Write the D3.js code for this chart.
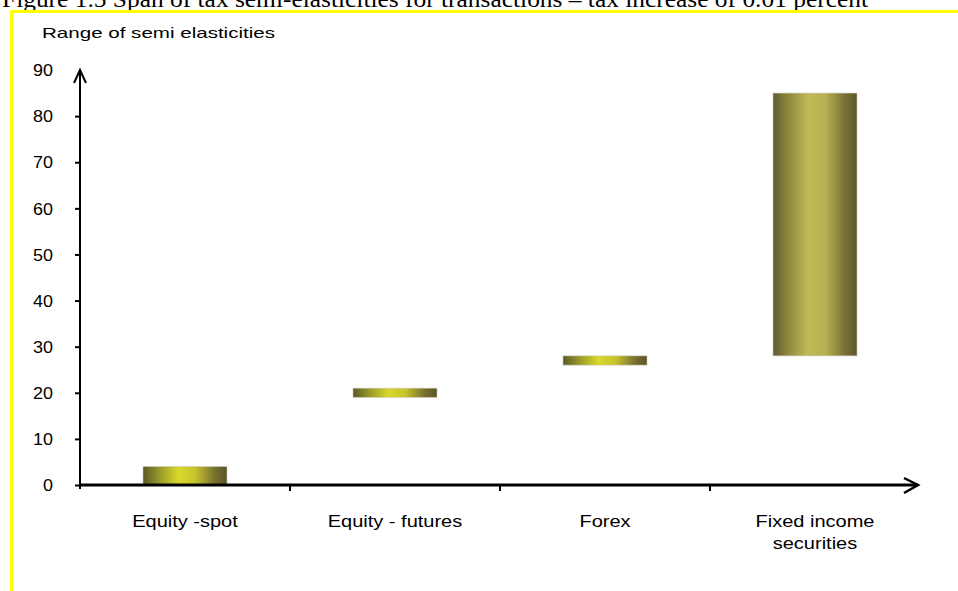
<!DOCTYPE html>
<html><head><meta charset="utf-8">
<script src="https://cdn.jsdelivr.net/npm/d3@7"></script>
<style>html,body{margin:0;padding:0;background:#fff;overflow:hidden}</style>
</head><body>
<svg id="c" width="958" height="591"></svg>
<script>
const categories = ["Equity -spot", "Equity - futures", "Forex", "Fixed income securities"];
const lowValues = [0, 19, 26, 28];
const highValues = [4, 21, 28, 85];
const yTicks = [0, 10, 20, 30, 40, 50, 60, 70, 80, 90];
const titleText = "Figure 1.5 Span of tax semi-elasticities for transactions \u2013 tax increase of 0.01 percent";
const yTitle = "Range of semi elasticities";

const svg = d3.select("#c");
const defs = svg.append("defs");
function grad(id, stops) {
  const g = defs.append("linearGradient").attr("id", id).attr("x1", "0%").attr("x2", "100%").attr("y1", "0%").attr("y2", "0%");
  stops.forEach(s => g.append("stop").attr("offset", s[0]).attr("stop-color", s[1]));
}
grad("gBright", [["0%", "#5c5826"], ["20%", "#9a9a2c"], ["42%", "#d8d82a"], ["62%", "#c8c42e"], ["85%", "#787230"], ["100%", "#5a5428"]]);
grad("gMuted", [["0%", "#5e5a2e"], ["18%", "#8e883e"], ["42%", "#c2ba58"], ["62%", "#bab252"], ["85%", "#7a7236"], ["100%", "#5c5628"]]);

function stretch(sel, f) {
  sel.each(function () {
    const l = this.getComputedTextLength();
    d3.select(this).attr("textLength", l * f).attr("lengthAdjust", "spacingAndGlyphs");
  });
}

// title (cut off at top, as in the source page)
const t = svg.append("text").attr("x", 2).attr("y", 7)
  .attr("font-family", "Liberation Serif, Times New Roman, serif").attr("font-size", 24)
  .attr("fill", "#000").text(titleText);
t.attr("textLength", 866).attr("lengthAdjust", "spacingAndGlyphs");

// yellow frame
svg.append("path").attr("d", "M11.5,591 V11.5 H958").attr("fill", "none").attr("stroke", "#ffff00").attr("stroke-width", 3);

const x0 = 80, x1 = 920, yBase = 485, yTop = 70;
const x = d3.scaleBand().domain(categories).range([x0, x1]).paddingInner(0.6).paddingOuter(0.3);
const xb = d3.scaleBand().domain(categories).range([x0, x1]).padding(0);
const y = d3.scaleLinear().domain([0, 90]).range([yBase, yTop]);

// bars
svg.append("g").selectAll("rect").data(categories).join("rect")
  .attr("x", d => x(d)).attr("width", x.bandwidth())
  .attr("y", (d, i) => y(highValues[i]))
  .attr("height", (d, i) => y(lowValues[i]) - y(highValues[i]))
  .attr("fill", (d, i) => (highValues[i] - lowValues[i]) > 20 ? "url(#gMuted)" : "url(#gBright)")
  .attr("stroke", "#c8c8b8").attr("stroke-width", 0.6);

// y axis
const yAxis = svg.append("g").attr("transform", `translate(${x0},0)`)
  .call(d3.axisLeft(y).tickValues(yTicks).tickSize(5).tickPadding(22).tickSizeOuter(0));
yAxis.select(".domain").remove();
yAxis.selectAll(".tick line").attr("stroke", "#000").attr("stroke-width", 2);
yAxis.selectAll(".tick text").attr("font-family", "Liberation Sans, Arial, sans-serif").attr("font-size", 16).attr("fill", "#000").attr("dy", "0.36em");
stretch(yAxis.selectAll(".tick text"), 1.12);
yAxis.select(".tick:last-of-type line").remove();
svg.append("line").attr("x1", x0).attr("x2", x0).attr("y1", yBase + 4).attr("y2", yTop).attr("stroke", "#000").attr("stroke-width", 2);
svg.append("path").attr("d", `M${x0 - 6},${yTop + 13} L${x0},${yTop} L${x0 + 6},${yTop + 13}`).attr("fill", "none").attr("stroke", "#000").attr("stroke-width", 2);

// x axis
svg.append("line").attr("x1", x0).attr("x2", 918).attr("y1", yBase).attr("y2", yBase).attr("stroke", "#000").attr("stroke-width", 3);
svg.append("path").attr("d", `M904,${yBase - 7} L918,${yBase} L904,${yBase + 8}`).attr("fill", "none").attr("stroke", "#000").attr("stroke-width", 2.5);
svg.append("g").selectAll("line").data(categories.slice(1)).join("line")
  .attr("x1", d => xb(d)).attr("x2", d => xb(d)).attr("y1", yBase).attr("y2", yBase + 6)
  .attr("stroke", "#000").attr("stroke-width", 2);

// category labels
const lab = svg.append("g").attr("font-family", "Liberation Sans, Arial, sans-serif").attr("font-size", 16).attr("fill", "#000").attr("text-anchor", "middle");
categories.forEach(c => {
  const cx = xb(c) + xb.bandwidth() / 2;
  const parts = c === "Fixed income securities" ? ["Fixed income", "securities"] : [c];
  parts.forEach((p, j) => lab.append("text").attr("x", cx).attr("y", 527 + j * 22).text(p));
});
stretch(lab.selectAll("text"), 1.25);

// y title
const yt = svg.append("text").attr("x", 42).attr("y", 38).attr("font-family", "Liberation Sans, Arial, sans-serif").attr("font-size", 15).attr("fill", "#000").text(yTitle);
yt.attr("textLength", 233).attr("lengthAdjust", "spacingAndGlyphs");
</script>
</body></html>
